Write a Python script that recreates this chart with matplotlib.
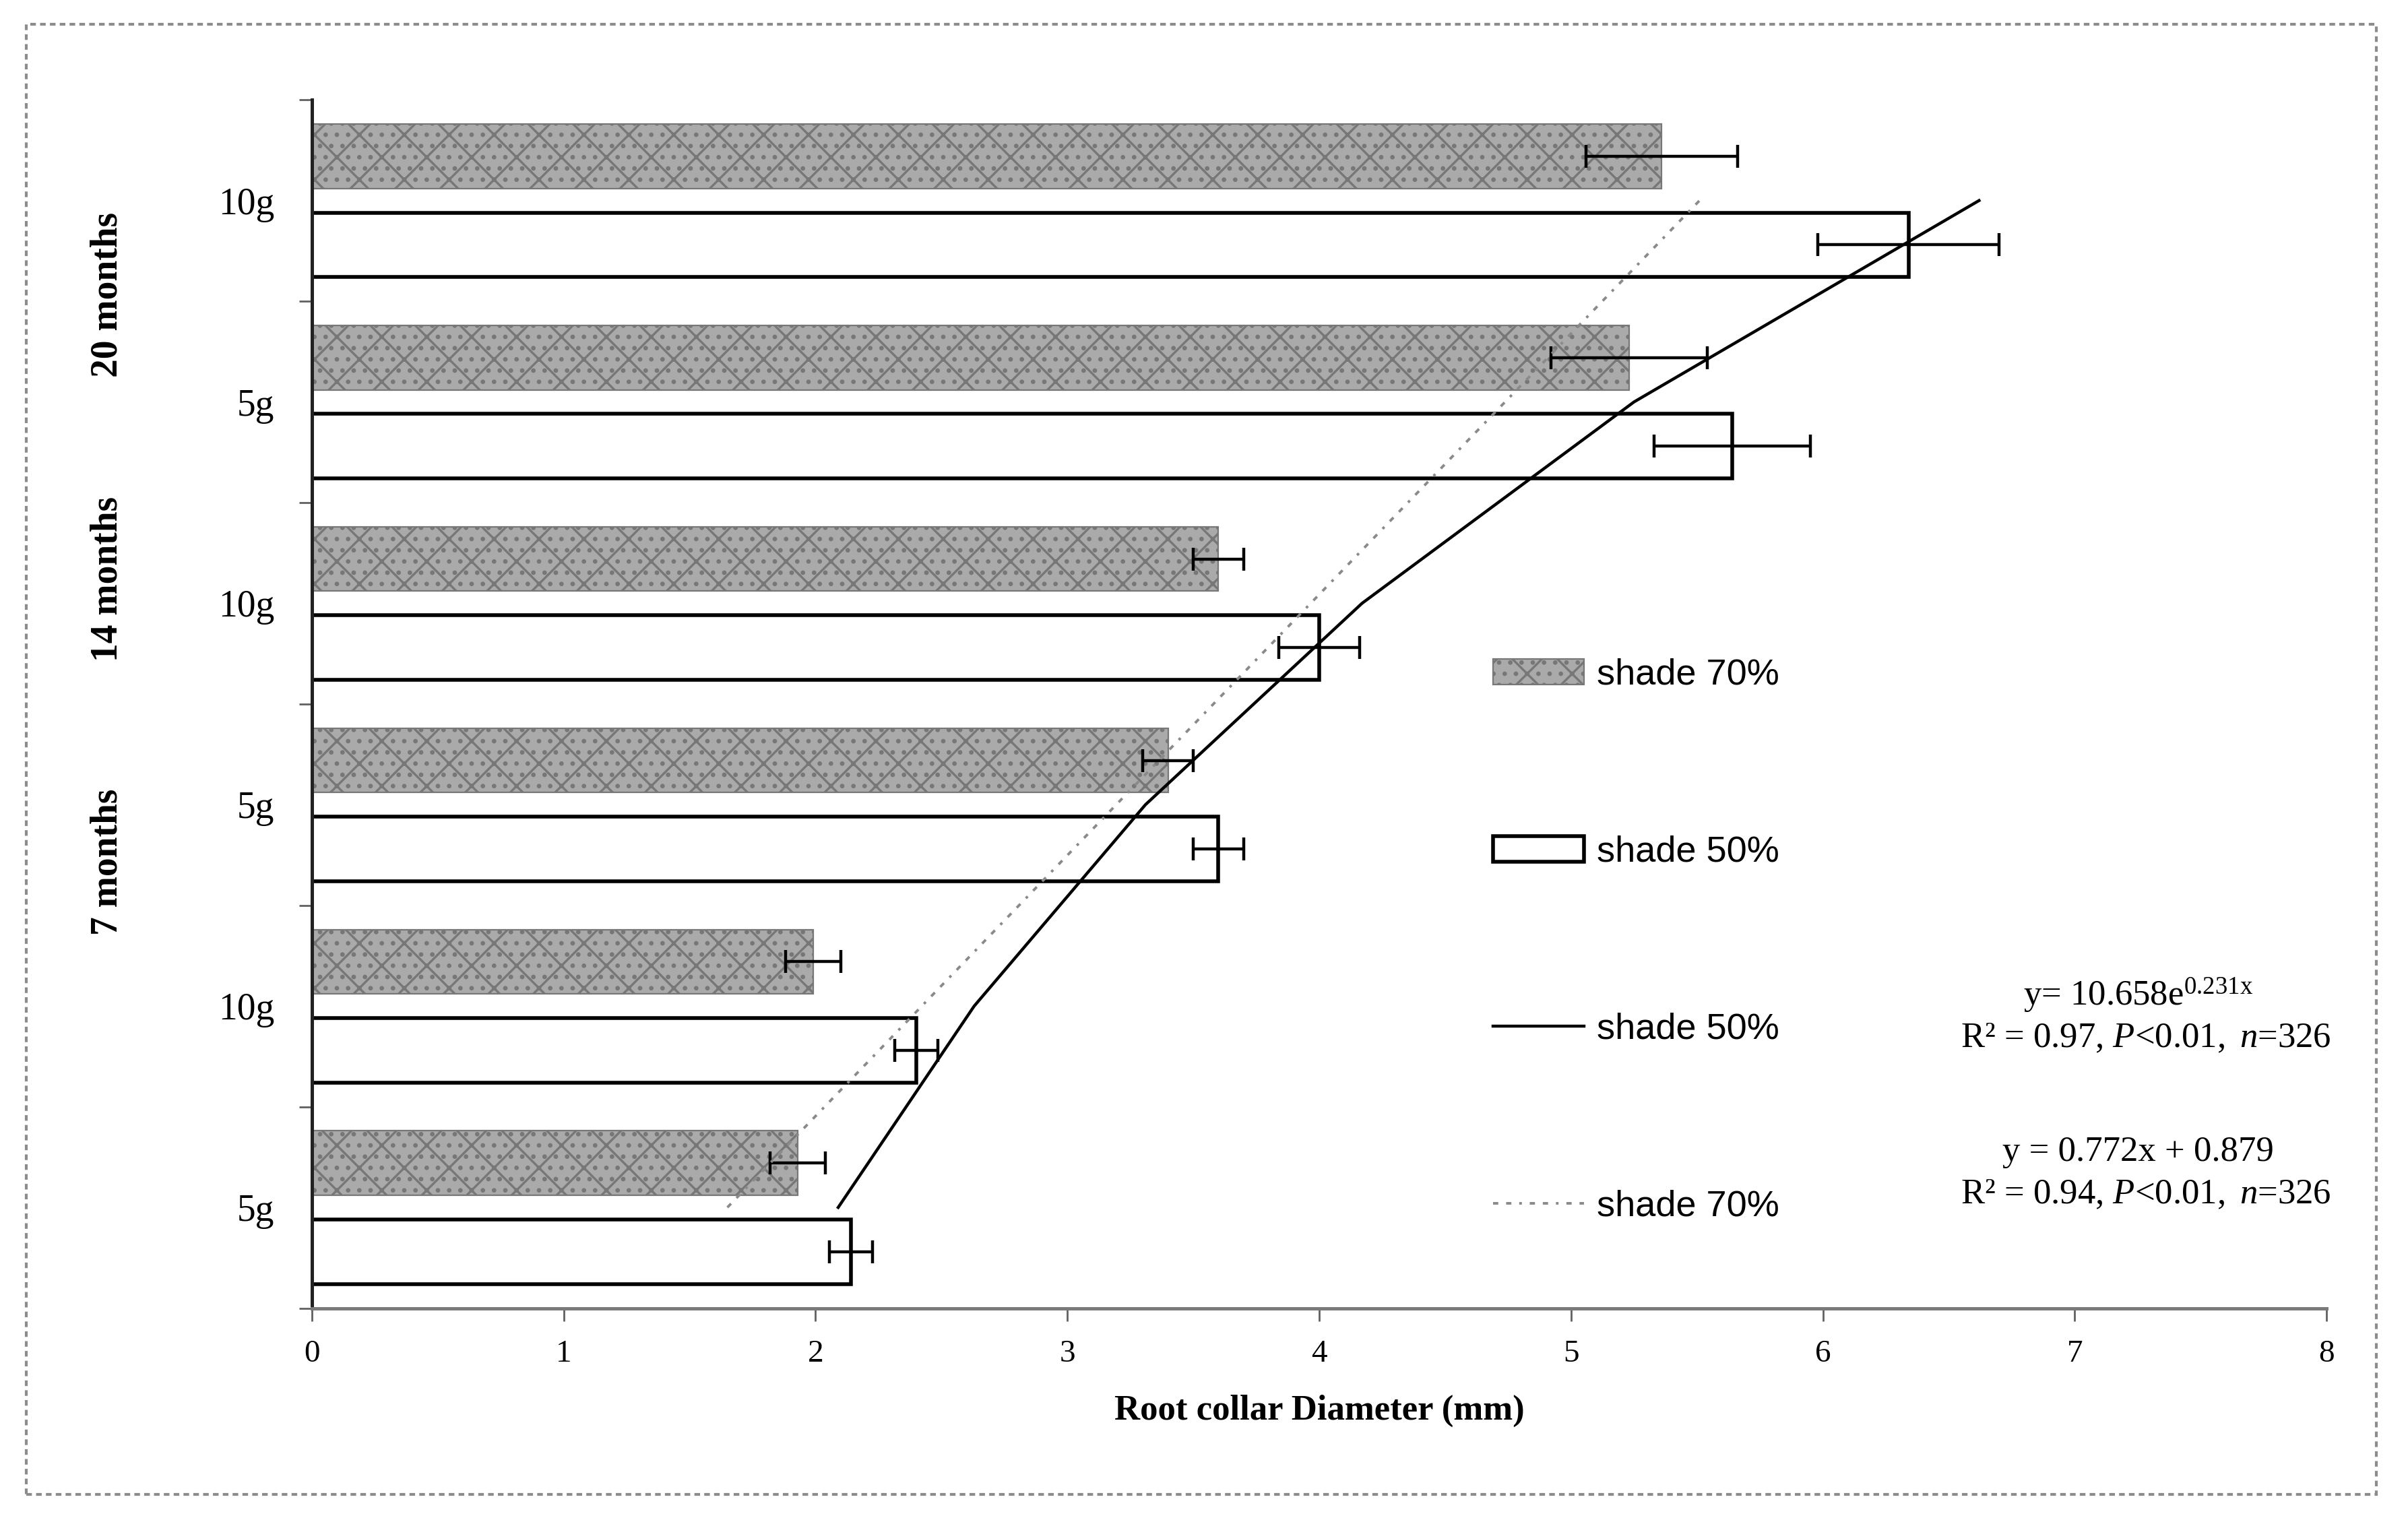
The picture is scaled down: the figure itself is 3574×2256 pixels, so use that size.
import matplotlib
matplotlib.use("Agg")
import matplotlib.pyplot as plt
from matplotlib.patches import Patch, Rectangle
from matplotlib.lines import Line2D
import numpy as np

plt.rcParams["font.family"] = ["Liberation Serif", "DejaVu Serif"]
plt.rcParams["mathtext.fontset"] = "custom"
plt.rcParams["mathtext.rm"] = "Liberation Serif"
plt.rcParams["mathtext.it"] = "Liberation Serif:italic"
plt.rcParams["hatch.linewidth"] = 1.2

# data
groups = ["5g", "10g", "5g", "10g", "5g", "10g"]  # bottom to top: 7, 14, 20 months
months = ["7 months", "14 months", "20 months"]
shade70 = [1.93, 1.99, 3.40, 3.60, 5.23, 5.36]
shade70_err = [0.11, 0.11, 0.10, 0.10, 0.31, 0.30]
shade50 = [2.14, 2.40, 3.60, 4.00, 5.64, 6.34]
shade50_err = [0.085, 0.085, 0.10, 0.16, 0.31, 0.36]

# trend lines: x = diameter, t = group index (1..6)
trend_t = [1, 2, 3, 4, 5, 6]
trend50_x = [2.09, 2.63, 3.31, 4.17, 5.25, 6.62]
trend70_t = [1, 6]
trend70_x = [1.65, 5.51]

eq50 = ["y= 10.658e$^{\\mathrm{0.231x}}$", "R² = 0.97, $\\mathit{P}$<$\\mathit{0.01,}$ $\\mathit{n}$=326"]
eq70 = ["y = 0.772x + 0.879", "R² = 0.94, $\\mathit{P}$<$\\mathit{0.01,}$ $\\mathit{n}$=326"]

fig = plt.figure(figsize=(17.87, 11.28), dpi=200)
ax = fig.add_axes([0.1295, 0.1394, 0.8367, 0.7949])

y = np.arange(len(groups))
h = 0.32
gray_kw = dict(facecolor="#aaaaaa", edgecolor="#777777", hatch="x..", linewidth=0.8)
ax.barh(y + 0.22, shade70, height=h, **gray_kw)
ax.barh(y - 0.22, shade50, height=h, facecolor="white", edgecolor="black", linewidth=2.0)
ax.errorbar(shade70, y + 0.22, xerr=shade70_err, fmt="none", ecolor="black",
            elinewidth=1.6, capsize=6, capthick=1.6)
ax.errorbar(shade50, y - 0.22, xerr=shade50_err, fmt="none", ecolor="black",
            elinewidth=1.6, capsize=6, capthick=1.6)

ax.plot(trend50_x, np.array(trend_t) - 1, color="black", lw=1.6)
ax.plot(trend70_x, np.array(trend70_t) - 1, color="#8a8a8a", lw=1.4,
        dashes=(2, 3, 2, 3, 1, 3))

ax.set_xlim(0, 8)
ax.set_ylim(-0.5, 5.5)
ax.set_xticks(range(9))
ax.set_yticks(y)
ax.set_yticklabels(groups, fontsize=20)
ax.set_yticks(np.arange(-0.5, 6, 1), minor=True)
ax.tick_params(axis="y", which="major", length=0, pad=20)
ax.tick_params(axis="y", which="minor", length=7, width=1, color="#606060")
ax.tick_params(axis="x", length=7, width=1, color="#606060", labelsize=17, pad=10)
for s in ["top", "right"]:
    ax.spines[s].set_visible(False)
ax.spines["left"].set_linewidth(1.8)
ax.spines["left"].set_color("#222222")
ax.spines["bottom"].set_linewidth(1.8)
ax.spines["bottom"].set_color("#7a7a7a")
ax.set_xlabel("Root collar Diameter (mm)", fontsize=19, fontweight="bold", labelpad=14)

# month labels
for lab, yy in zip(months, [0.433, 0.619, 0.806]):
    fig.text(0.0446, yy, lab, rotation=90, ha="center", va="center",
             fontsize=20, fontweight="bold")

# legend
handles = [Patch(**gray_kw),
           Patch(facecolor="white", edgecolor="black", linewidth=2.0),
           Line2D([], [], color="black", lw=1.6),
           Line2D([], [], color="#8a8a8a", lw=1.4, dashes=(2, 3, 2, 3, 1, 3))]
labels = ["shade 70%", "shade 50%", "shade 50%", "shade 70%"]
fig.legend(handles, labels, loc="upper left", bbox_to_anchor=(0.62, 0.567),
           frameon=False, borderpad=0, borderaxespad=0, labelspacing=3.93,
           handlelength=2.5, handletextpad=0.35,
           prop={"family": "Liberation Sans", "size": 19.5})

# equations
for (l1, l2), y1 in zip([eq50, eq70], [0.345, 0.242]):
    fig.text(0.888, y1, l1, ha="center", va="center", fontsize=19)
    fig.text(0.968, y1 - 0.028, l2, ha="right", va="center", fontsize=19)

# outer dashed border
fig.patches.append(Rectangle((0.0108, 0.017), 0.976, 0.967, transform=fig.transFigure,
                             fill=False, edgecolor="#8c8c8c", lw=1.5, linestyle=(0, (2, 1.5))))

fig.savefig("out.png", dpi=200)
